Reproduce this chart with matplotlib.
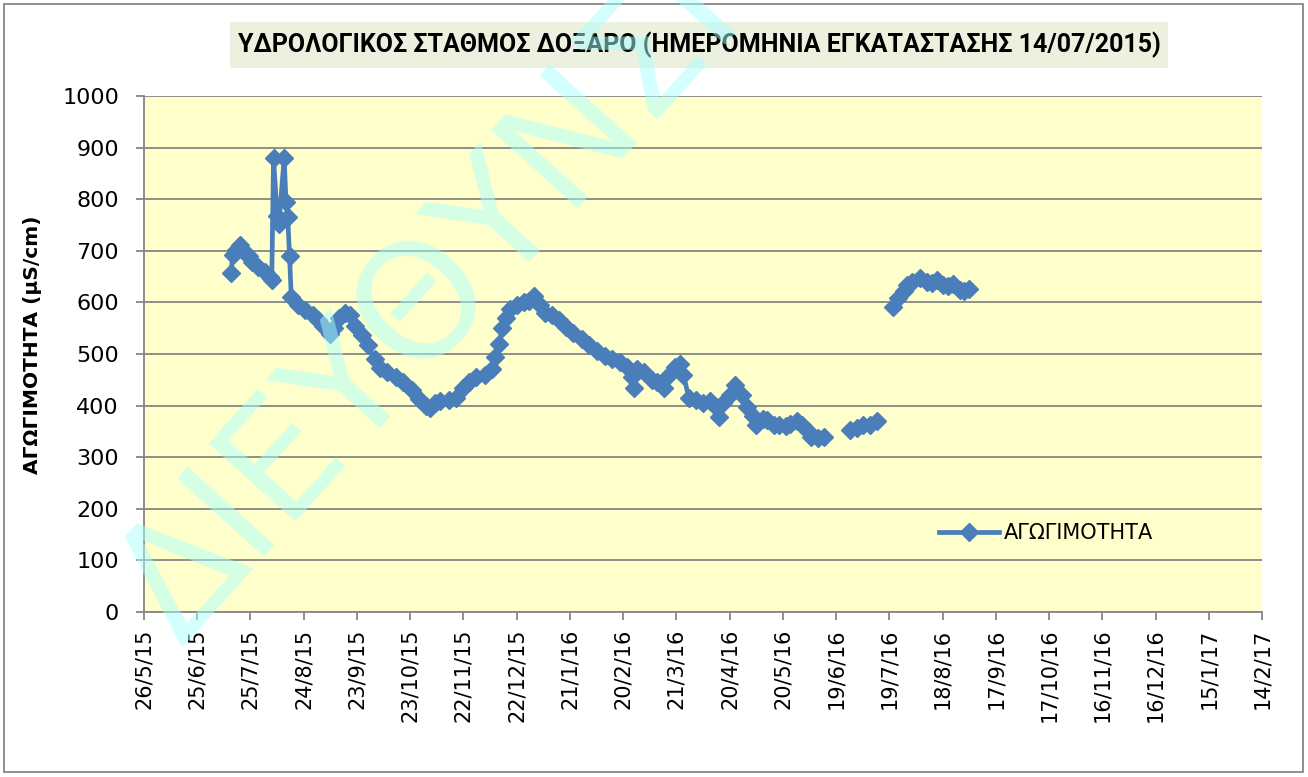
import matplotlib
matplotlib.use('Agg')
import matplotlib.pyplot as plt
import numpy as np
import pandas as pd
from matplotlib.patches import Rectangle

# Μετρήσεις αγωγιμότητας (µS/cm) - None = κενό στη σειρά
dates = [
    '2015-07-14', '2015-07-15', '2015-07-17', '2015-07-19', '2015-07-21', '2015-07-24',
    '2015-07-26', '2015-07-29', '2015-08-02', '2015-08-05', '2015-08-06', '2015-08-07',
    '2015-08-09', '2015-08-10', '2015-08-13', '2015-08-14', '2015-08-15', '2015-08-16',
    '2015-08-17', '2015-08-21', '2015-08-25', '2015-08-29', '2015-09-01', '2015-09-04',
    '2015-09-08', '2015-09-10', '2015-09-13', '2015-09-16', '2015-09-19', '2015-09-22',
    '2015-09-26', '2015-09-29', '2015-10-03', '2015-10-06', '2015-10-10', '2015-10-15',
    '2015-10-19', '2015-10-24', '2015-10-28', '2015-11-01', '2015-11-03', '2015-11-06',
    '2015-11-09', '2015-11-14', '2015-11-18', '2015-11-22', '2015-11-25', '2015-11-29',
    '2015-12-04', '2015-12-08', '2015-12-10', '2015-12-12', '2015-12-14', '2015-12-16',
    '2015-12-18', '2015-12-22', '2015-12-26', '2015-12-29', '2016-01-01', '2016-01-04',
    '2016-01-07', '2016-01-11', '2016-01-15', '2016-01-19', '2016-01-23', '2016-01-28',
    '2016-02-01', '2016-02-05', '2016-02-10', '2016-02-14', '2016-02-18', '2016-02-22',
    '2016-02-25', '2016-02-26', '2016-02-28', '2016-03-03', '2016-03-07', '2016-03-10',
    '2016-03-14', '2016-03-17', '2016-03-20', '2016-03-23', '2016-03-25', '2016-03-28',
    '2016-04-01', '2016-04-05', '2016-04-09', '2016-04-12', '2016-04-14', '2016-04-16',
    '2016-04-20', '2016-04-23', '2016-04-27', '2016-04-30', '2016-05-03', '2016-05-05',
    '2016-05-09', '2016-05-11', '2016-05-15', '2016-05-18', '2016-05-22', '2016-05-24',
    '2016-05-28', '2016-05-31', '2016-06-03', '2016-06-05', '2016-06-09', '2016-06-12',
    '2016-06-20',
    '2016-06-27', '2016-07-01', '2016-07-04', '2016-07-08', '2016-07-12',
    '2016-07-16',
    '2016-07-21', '2016-07-24', '2016-07-27', '2016-07-29', '2016-08-01', '2016-08-05',
    '2016-08-09', '2016-08-12', '2016-08-15', '2016-08-18', '2016-08-21', '2016-08-24',
    '2016-08-28', '2016-08-30', '2016-09-02',
]
conductivity = [
    657, 692, 702, 711, 700, 690,
    678, 668, 658, 650, 643, 880,
    768, 752, 880, 795, 765, 690,
    610, 595, 585, 575, 565, 555,
    538, 550, 570, 580, 575, 555,
    537, 517, 490, 473, 465, 455,
    445, 430, 413, 400, 395, 405,
    408, 410, 415, 435, 445, 455,
    460, 470, 495, 520, 550, 570,
    588, 595, 600, 603, 612, 595,
    580, 575, 565, 553, 540, 530,
    517, 505, 497, 490, 485, 475,
    455, 435, 470, 465, 450, 445,
    435, 460, 475, 480, 460, 415,
    410, 405, 408, 400, 378, 405,
    420, 440, 420, 398, 380, 362,
    375, 372, 362, 362, 360, 365,
    370, 362, 350, 340, 338, 340,
    None,
    352, 356, 362, 362, 370,
    None,
    592, 608, 622, 633, 640, 647,
    640, 638, 643, 633, 632, 635,
    625, 622, 626,
]

series_name = 'ΑΓΩΓΙΜΟΤΗΤΑ'
title = 'ΥΔΡΟΛΟΓΙΚΟΣ ΣΤΑΘΜΟΣ ΔΟΞΑΡΟ (ΗΜΕΡΟΜΗΝΙΑ ΕΓΚΑΤΑΣΤΑΣΗΣ 14/07/2015)'
ylabel = 'ΑΓΩΓΙΜΟΤΗΤΑ (µS/cm)'
watermark = 'ΔΙΕΥΘΥΝΣΗ'

tick_dates = pd.date_range('2015-05-26', periods=22, freq='30D')
tick_labels = [f'{d.day}/{d.month}/{d:%y}' for d in tick_dates]
y_ticks = list(range(0, 1001, 100))

W, H = 1308, 777
grey = '#868686'
blue = '#4A7EBB'

fig = plt.figure(figsize=(W / 100, H / 100), dpi=100)
fig.patch.set_facecolor('white')

# Πλαίσιο γύρω από το γράφημα
fig.add_artist(Rectangle((4 / W, 1 - 772 / H), 1299 / W, 768 / H, transform=fig.transFigure,
                         fill=False, edgecolor=grey, lw=1.3))

ax = fig.add_axes([144 / W, 1 - 612 / H, 1118 / W, 516 / H])
ax.set_facecolor('#FFFFCC')

x = pd.to_datetime(dates)
y = np.array([np.nan if v is None else v for v in conductivity], dtype=float)
ax.plot(x, y, color=blue, lw=3.4, marker='D', ms=9.5, mfc=blue, mec=blue,
        label=series_name, zorder=3)

ax.set_xlim(tick_dates[0], tick_dates[-1])
ax.set_xticks(tick_dates)
ax.set_xticklabels(tick_labels, rotation=90, fontsize=15)
ax.set_ylim(0, 1000)
ax.set_yticks(y_ticks)
ax.set_yticklabels([str(v) for v in y_ticks], fontsize=16)
ax.tick_params(direction='out', length=6, width=1.3, color=grey)
ax.tick_params(axis='y', pad=12)
ax.tick_params(axis='x', pad=6)
ax.grid(axis='y', color=grey, lw=1.3)
ax.set_axisbelow(True)
for s in ['top', 'right']:
    ax.spines[s].set_visible(False)
for s in ['left', 'bottom']:
    ax.spines[s].set_color(grey)
    ax.spines[s].set_linewidth(1.3)

ax.legend(loc='center left', bbox_to_anchor=(0.694, 0.153), frameon=False,
          fontsize=15, handlelength=2.9, handletextpad=0.25)

# Τίτλος σε πλαίσιο
fig.add_artist(Rectangle((230 / W, 1 - 68 / H), 938 / W, 46 / H, transform=fig.transFigure,
                         facecolor='#EBF1DE', edgecolor='none'))
fig.text(699 / W, 1 - 45 / H, title, ha='center', va='center', fontsize=18,
         fontweight='bold', family='Roboto')

fig.text(33 / W, 1 - 345 / H, ylabel, rotation=90, ha='center', va='center',
         fontsize=14.5, fontweight='bold')

# Υδατογράφημα
fig.text(455 / W, 1 - 277 / H, watermark, rotation=48, rotation_mode='anchor',
         ha='center', va='center', fontsize=115, color='#AAFFFF', alpha=0.5, zorder=10)

fig.savefig('out.png', dpi=100)
